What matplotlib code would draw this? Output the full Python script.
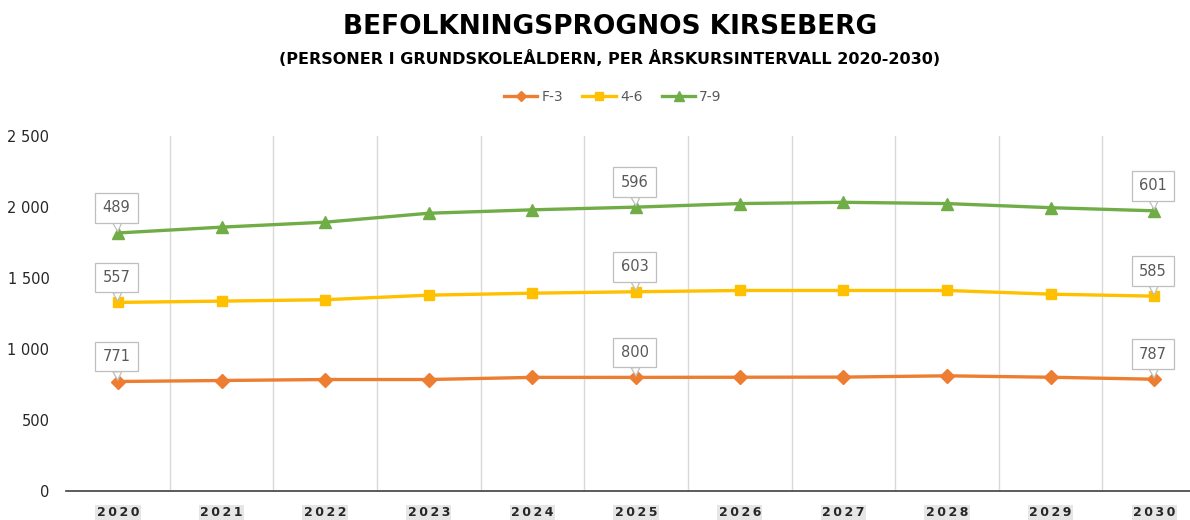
import numpy as np
import matplotlib.pyplot as plt

years = ['2020', '2021', '2022', '2023', '2024', '2025', '2026', '2027', '2028', '2029', '2030']
f3 = [771, 778, 785, 785, 800, 800, 801, 802, 811, 801, 787]
ak46 = [557, 559, 562, 594, 593, 603, 611, 610, 601, 585, 585]
ak79 = [489, 521, 546, 577, 587, 596, 612, 621, 612, 609, 601]
series_names = ['F-3', '4-6', '7-9']
colors = ['#ED7D31', '#FFC000', '#70AD47']
markers = ['D', 's', '^']
labelled = [0, 5, 10]

vals = np.array([f3, ak46, ak79])
cum = np.cumsum(vals, axis=0)
x = np.arange(len(years))

fig = plt.figure(figsize=(11.9, 5.2), dpi=100)
ax = fig.add_axes([0.0555, 0.0558, 0.958, 0.6827])

msizes = [7, 7, 8.5]
for i in range(3):
    ax.plot(x, cum[i], color=colors[i], lw=2.4, marker=markers[i],
            ms=msizes[i], label=series_names[i], zorder=3)
    for j in labelled:
        ax.annotate(str(vals[i][j]), xy=(x[j], cum[i][j]), xytext=(-1, 18),
                    textcoords='offset points', ha='center', va='center',
                    fontsize=10.5, color='#595959',
                    bbox=dict(boxstyle='square,pad=0.5', fc='white', ec='#bfbfbf', lw=0.9),
                    arrowprops=dict(arrowstyle='wedge,tail_width=0.6', fc='white',
                                    ec='#bfbfbf', lw=0.9, shrinkA=0, shrinkB=1),
                    zorder=4)

ax.set_xlim(-0.5, 10.5)
ax.set_ylim(0, 2500)
ax.set_yticks(np.arange(0, 2501, 500))
ax.set_yticklabels([f'{v:,}'.replace(',', ' ') for v in range(0, 2501, 500)])
ax.set_xticks(x)
ax.set_xticklabels(['\u2009'.join(y) for y in years], fontweight='bold')
for t in ax.get_xticklabels():
    t.set_bbox(dict(fc='#e6e6e6', ec='none', pad=1.2))
ax.set_xticks(np.arange(0.5, 10, 1), minor=True)
ax.grid(True, which='minor', axis='x', color='#d9d9d9', lw=1)
ax.tick_params(axis='both', which='both', length=0)
ax.tick_params(axis='y', labelsize=10.5, labelcolor='#262626', pad=12)
ax.tick_params(axis='x', labelsize=9, labelcolor='#262626', pad=11)
for s in ['top', 'right', 'left']:
    ax.spines[s].set_visible(False)
ax.spines['bottom'].set_color('#404040')
ax.spines['bottom'].set_linewidth(1.2)

fig.text(0.5126, 0.948, 'BEFOLKNINGSPROGNOS KIRSEBERG', ha='center', va='center',
         fontsize=19, fontweight='bold', color='black')
fig.text(0.5126, 0.888, '(PERSONER I GRUNDSKOLEÅLDERN, PER ÅRSKURSINTERVALL 2020-2030)',
         ha='center', va='center', fontsize=11.5, fontweight='bold', color='black')
fig.legend(loc='center', bbox_to_anchor=(0.515, 0.8135), ncol=3, frameon=False,
           fontsize=10, labelcolor='#595959', handlelength=2.4, columnspacing=1.4,
           handletextpad=0.3, markerscale=0.8)

fig.savefig('out.png', dpi=100)
